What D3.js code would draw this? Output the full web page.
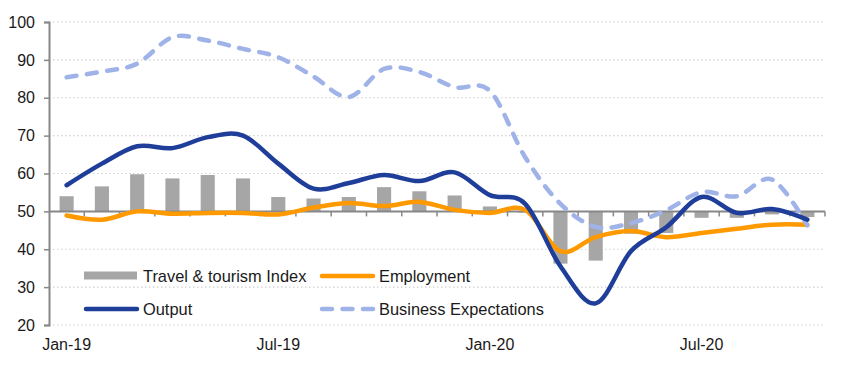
<!DOCTYPE html>
<html>
<head>
<meta charset="utf-8">
<script src="https://cdn.jsdelivr.net/npm/d3@7"></script>
<style>
  body { margin: 0; background: #fff; }
  svg { display: block; font-family: Arial, "Liberation Sans", sans-serif; }
</style>
</head>
<body>
<svg width="855" height="375"></svg>
<script>
// Months Jan-19 .. Oct-20
const months = ["Jan-19","Feb-19","Mar-19","Apr-19","May-19","Jun-19","Jul-19","Aug-19","Sep-19","Oct-19","Nov-19","Dec-19",
                "Jan-20","Feb-20","Mar-20","Apr-20","May-20","Jun-20","Jul-20","Aug-20","Sep-20","Oct-20"];
const tickLabels = ["Jan-19", "Jul-19", "Jan-20", "Jul-20"];

const travelIndex = [54.0, 56.6, 59.8, 58.7, 59.6, 58.7, 53.8, 53.4, 53.8, 56.4, 55.3, 54.2,
                     51.3, 49.7, 36.2, 37.0, 44.1, 44.3, 48.3, 48.3, 49.2, 48.5];
const employment = [48.9, 47.8, 50.0, 49.4, 49.6, 49.6, 49.2, 51.0, 52.2, 51.4, 52.5, 50.4,
                    49.6, 50.4, 39.5, 43.2, 44.8, 43.2, 44.3, 45.4, 46.5, 46.5];
const output = [56.9, 62.6, 67.2, 66.7, 69.6, 70.0, 62.6, 56.0, 57.5, 59.6, 58.0, 60.3,
                54.3, 52.0, 35.5, 25.7, 39.5, 45.8, 53.8, 49.6, 50.6, 47.8];
const businessExp = [85.4, 86.9, 89.0, 96.0, 95.1, 92.9, 90.7, 85.6, 80.2, 87.6, 86.8, 82.8,
                     81.8, 64.3, 52.0, 45.9, 46.9, 50.3, 55.1, 54.0, 58.4, 46.3];

const yTicks = [20, 30, 40, 50, 60, 70, 80, 90, 100];

const svg = d3.select("svg");
const plotLeft = 49, plotRight = 825, plotTop = 22, plotBottom = 325;

const x = d3.scaleBand()
    .domain(months)
    .range([plotLeft, plotRight])
    .paddingInner(0.6)
    .paddingOuter(0.3);

const y = d3.scaleLinear()
    .domain([20, 100])
    .range([plotBottom, plotTop]);

const step = x.step();
const cx = d => x(d) + x.bandwidth() / 2;

// gridlines (dotted)
svg.append("g")
    .selectAll("line")
    .data(yTicks.filter(v => v !== 50))
    .join("line")
    .attr("x1", plotLeft).attr("x2", plotRight - 2)
    .attr("y1", d => y(d)).attr("y2", d => y(d))
    .attr("stroke", "#d0d0d0")
    .attr("stroke-width", 1.2)
    .attr("stroke-dasharray", "1.5,2.5");

// bars from the 50 line
svg.append("g")
    .selectAll("rect")
    .data(travelIndex)
    .join("rect")
    .attr("x", (d, i) => x(months[i]))
    .attr("width", x.bandwidth())
    .attr("y", d => Math.min(y(d), y(50)))
    .attr("height", d => Math.abs(y(d) - y(50)))
    .attr("fill", "#a6a6a6");

// y axis
const yAxis = svg.append("g")
    .attr("transform", `translate(${plotLeft},0)`)
    .call(d3.axisLeft(y).tickValues(yTicks).tickSize(5).tickPadding(9));
yAxis.select(".domain").attr("stroke", "#878787").attr("stroke-width", 2);
yAxis.selectAll(".tick line").attr("stroke", "#878787").attr("stroke-width", 1.5);
yAxis.selectAll(".tick text")
    .attr("fill", "#1a1a1a")
    .style("font-size", "16px")
    .style("font-family", "Arial, 'Liberation Sans', sans-serif");

// horizontal axis at 50 with ticks between months
const xAxis = svg.append("g")
    .attr("transform", `translate(0,${y(50)})`);
xAxis.append("line")
    .attr("x1", plotLeft).attr("x2", plotRight)
    .attr("stroke", "#878787").attr("stroke-width", 2);
xAxis.selectAll("line.tk")
    .data(d3.range(1, months.length + 1))
    .join("line")
    .attr("class", "tk")
    .attr("x1", i => plotLeft + i * step).attr("x2", i => plotLeft + i * step)
    .attr("y1", 0).attr("y2", 5)
    .attr("stroke", "#878787").attr("stroke-width", 1.5);

// lines
const line = d3.line()
    .x((d, i) => cx(months[i]))
    .y(d => y(d))
    .curve(d3.curveCatmullRom.alpha(0));

svg.append("path")
    .datum(employment)
    .attr("d", line)
    .attr("fill", "none")
    .attr("stroke", "#ff9900")
    .attr("stroke-width", 4.5)
    .attr("stroke-linecap", "round");

svg.append("path")
    .datum(businessExp)
    .attr("d", line)
    .attr("fill", "none")
    .attr("stroke", "#9fb3e8")
    .attr("stroke-width", 4.5)
    .attr("stroke-linecap", "round")
    .attr("stroke-dasharray", "10,10.5");

svg.append("path")
    .datum(output)
    .attr("d", line)
    .attr("fill", "none")
    .attr("stroke", "#1f3e9a")
    .attr("stroke-width", 4.5)
    .attr("stroke-linecap", "round");

// x labels
svg.append("g")
    .selectAll("text")
    .data(tickLabels)
    .join("text")
    .attr("x", d => cx(d))
    .attr("y", 350)
    .attr("text-anchor", "middle")
    .attr("fill", "#1a1a1a")
    .style("font-size", "16px")
    .text(d => d);

// legend
const legend = svg.append("g");
const legendItems = [
  { name: "Travel & tourism Index", type: "bar", color: "#a6a6a6", lx: 84, ly: 276 },
  { name: "Employment", type: "line", color: "#ff9900", lx: 320, ly: 276 },
  { name: "Output", type: "line", color: "#1f3e9a", lx: 84, ly: 309 },
  { name: "Business Expectations", type: "dash", color: "#9fb3e8", lx: 320, ly: 309 }
];
legendItems.forEach(it => {
  if (it.type === "bar") {
    legend.append("rect")
      .attr("x", it.lx).attr("y", it.ly - 4.5)
      .attr("width", 53).attr("height", 8)
      .attr("fill", it.color);
  } else {
    legend.append("line")
      .attr("x1", it.lx + 2).attr("x2", it.lx + 53)
      .attr("y1", it.ly).attr("y2", it.ly)
      .attr("stroke", it.color)
      .attr("stroke-width", 4.5)
      .attr("stroke-linecap", "round")
      .attr("stroke-dasharray", it.type === "dash" ? "10,10.5" : null);
  }
  legend.append("text")
    .attr("x", it.lx + 59)
    .attr("y", it.ly + 5.5)
    .attr("fill", "#1a1a1a")
    .style("font-size", "16.4px")
    .text(it.name);
});
</script>
</body>
</html>
